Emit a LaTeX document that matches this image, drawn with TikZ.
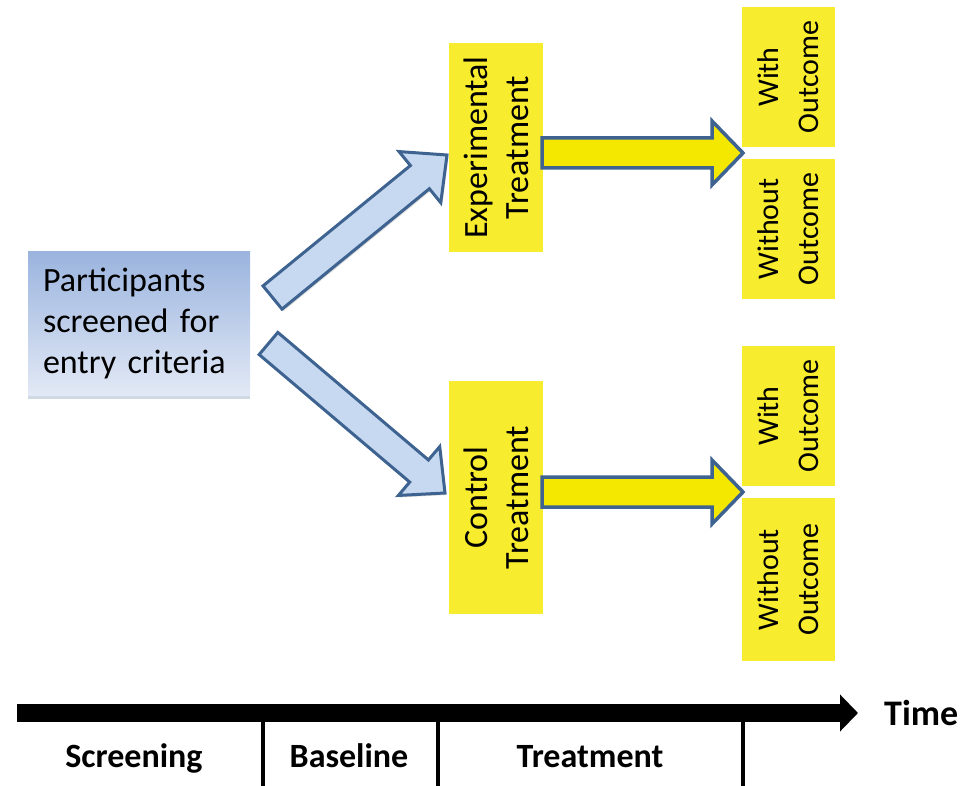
\documentclass[tikz,border=0pt]{standalone}
\usepackage{fontspec}
\setmainfont{Carlito}
\usetikzlibrary{calc,shadows,arrows.meta}

\definecolor{boxtop}{HTML}{9BB4DE}
\definecolor{boxbottom}{HTML}{E2E9F6}
\definecolor{arrowblue}{HTML}{C6D9F0}
\definecolor{edgeblue}{HTML}{3E6391}
\definecolor{stickyyellow}{HTML}{F8EC2E}
\definecolor{arrowyellow}{HTML}{F4E800}

% Block arrow from #2 to #3: #1 style, #4 half shaft width,
% #5 half head width, #6 head length
\newcommand{\blockarrow}[6]{%
  \coordinate (ba-neck) at ($(#3)!#6!(#2)$);
  \draw[#1]
    ($(#2)!#4!90:(#3)$) -- ($(ba-neck)!#4!90:(#3)$) --
    ($(ba-neck)!#5!90:(#3)$) -- (#3) --
    ($(ba-neck)!#5!-90:(#3)$) -- ($(ba-neck)!#4!-90:(#3)$) --
    ($(#2)!#4!-90:(#3)$) -- cycle;
}

\tikzset{
  every node/.style={font=\fontsize{34}{41}\selectfont, inner sep=0pt},
  screenbox/.style={rectangle, top color=boxtop, bottom color=boxbottom,
    minimum width=222pt, minimum height=143pt, text width=192pt, align=left,
    drop shadow={shadow xshift=0pt, shadow yshift=-4pt, fill=edgeblue!45, opacity=0.55}},
  armbox/.style={rectangle, fill=stickyyellow, rotate=90, align=center,
    minimum height=94pt},
  outcomebox/.style={rectangle, fill=stickyyellow, rotate=90, align=center,
    minimum height=93pt, font=\fontsize{30}{40}\selectfont},
  bluearrow/.style={fill=arrowblue, draw=edgeblue, line width=3pt, line join=miter,
    drop shadow={shadow xshift=1.5pt, shadow yshift=-2pt, opacity=0.3}},
  yellowarrow/.style={fill=arrowyellow, draw=edgeblue, line width=3.5pt, line join=miter},
  timeline/.style={line width=18pt, -{Triangle[length=18pt, width=36pt]}},
  timetick/.style={line width=4.5pt},
  phaselabel/.style={anchor=base, font=\bfseries\fontsize{34}{40}\selectfont},
}

\begin{document}
\begin{tikzpicture}[x=1pt, y=-1pt]
  \useasboundingbox (0,0) rectangle (969,786);

  % Screening box
  \node[screenbox] (screen) at (139,323.5) {Participants\\screened for\\entry criteria};

  % Treatment arms
  \node[armbox, minimum width=209pt] (exp) at (496,147.5) {Experimental\\Treatment};
  \node[armbox, minimum width=233pt] (ctl) at (496,497.5) {Control\\Treatment};

  % Outcome boxes
  \node[outcomebox, minimum width=140pt] (expwith) at (788.5,77) {With\\Outcome};
  \node[outcomebox, minimum width=140pt] (expwithout) at (788.5,229) {Without\\Outcome};
  \node[outcomebox, minimum width=140pt] (ctlwith) at (788.5,416) {With\\Outcome};
  \node[outcomebox, minimum width=163pt] (ctlwithout) at (788.5,579.5) {Without\\Outcome};

  % Arrow end points
  \coordinate (up-tail) at (272.5,297.5);
  \coordinate (up-tip) at (447,155);
  \coordinate (down-tail) at (268.5,343.5);
  \coordinate (down-tip) at (445,493);
  \coordinate (exp-out) at (542,153);
  \coordinate (exp-split) at (743,153);
  \coordinate (ctl-out) at (542,492);
  \coordinate (ctl-split) at (743,492);

  % Randomisation arrows
  \blockarrow{bluearrow}{up-tail}{up-tip}{15pt}{33pt}{35pt}
  \blockarrow{bluearrow}{down-tail}{down-tip}{14.5pt}{32pt}{34pt}

  % Follow-up arrows
  \blockarrow{yellowarrow}{exp-out}{exp-split}{15pt}{32pt}{31pt}
  \blockarrow{yellowarrow}{ctl-out}{ctl-split}{15pt}{32pt}{31pt}

  % Time axis
  \coordinate (t-start) at (17,713);
  \coordinate (t-end) at (858,713);
  \draw[timeline] (t-start) -- (t-end);
  \node[anchor=west, font=\bfseries\fontsize{36}{40}\selectfont] (time) at (884,713) {Time};

  \coordinate (tick1-top) at (263,722);
  \coordinate (tick1-bot) at (263,786);
  \coordinate (tick2-top) at (438,722);
  \coordinate (tick2-bot) at (438,786);
  \coordinate (tick3-top) at (743,722);
  \coordinate (tick3-bot) at (743,786);
  \draw[timetick] (tick1-top) -- (tick1-bot);
  \draw[timetick] (tick2-top) -- (tick2-bot);
  \draw[timetick] (tick3-top) -- (tick3-bot);

  % Study phases
  \node[phaselabel] (screening) at (134,767) {Screening};
  \node[phaselabel] (baseline) at (349,767) {Baseline};
  \node[phaselabel] (treatment) at (590,767) {Treatment};
\end{tikzpicture}
\end{document}
